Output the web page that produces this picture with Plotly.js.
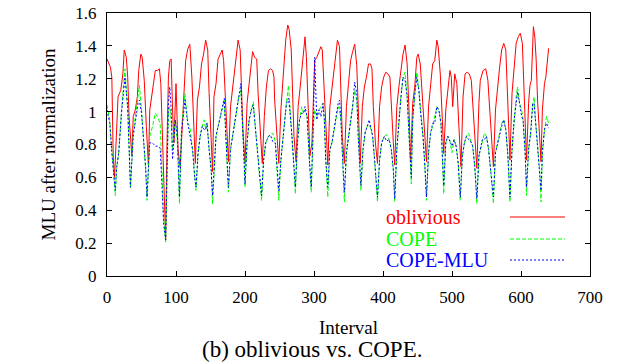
<!DOCTYPE html>
<html>
<head>
<meta charset="utf-8">
<script src="https://cdn.plot.ly/plotly-3.0.1.min.js"></script>
<style>html,body{margin:0;padding:0;background:#fff;}#chart{width:619px;height:362px;}</style>
</head>
<body>
<div id="chart"></div>
<script>
// oblivious (read at key points: peaks, troughs, shoulders)
var oblX = [0,3,5,7,9,11,13,16,20,23,25,28,30,32,36,38,41,44,46,49,51,54,57,60,62,66,70,73,76,78,80,83,85,87,89,91,93,95,97,100,103,106,109,112,114,117,120,123,126,128,131,134,137,140,143,146,148,151,153,155,158,161,164,167,169,172,176,179,182,185,188,190,193,195,197,200,203,206,209,211,214,217,219,222,225,228,231,234,237,240,242,243,246,249,252,255,257,259,262,264,267,269,271,274,277,280,283,285,287,289,292,294,297,299,301,304,307,310,312,314,317,320,323,326,329,332,334,337,339,341,344,347,350,353,356,359,362,364,367,370,373,376,379,382,384,386,389,392,395,398,401,404,407,410,412,415,417,420,423,426,429,432,435,438,440,443,446,449,451,454,457,460,463,466,469,472,475,478,480,483,486,488,491,494,497,499,501,504,507,510,513,516,519,522,525,528,532,536,539,541,545,549,552,555,560,563,566,569,572,575,578,581,584,587,590,593,596,599,602,604,608,611,613,615,618,620,622,624,627,629,631,634,636,638,640];
var oblY = [1.32,1.29,1.27,1.21,0.73,0.60,0.81,1.09,1.13,1.23,1.375,1.33,1.21,0.97,0.73,0.97,1.01,1.09,1.25,1.35,1.33,1.19,0.91,0.675,1.01,1.13,1.25,1.25,1.26,1.17,0.85,0.40,0.22,0.81,1.21,1.31,1.32,1.01,0.81,1.17,0.77,0.66,0.91,1.07,1.31,1.38,1.41,1.21,0.91,0.685,1.07,1.15,1.29,1.35,1.435,1.375,1.11,0.85,0.635,1.09,1.17,1.32,1.35,1.375,1.31,1.03,0.695,1.03,1.15,1.27,1.35,1.435,1.375,1.11,0.89,0.685,1.05,1.17,1.27,1.365,1.33,1.32,1.11,0.91,0.685,0.97,1.15,1.25,1.26,1.25,1.21,1.07,0.85,0.685,1.01,1.19,1.33,1.435,1.527,1.50,1.375,1.15,0.85,0.695,1.03,1.15,1.29,1.395,1.455,1.33,1.01,0.73,0.81,1.11,1.31,1.33,1.365,1.395,1.375,1.21,0.95,0.675,1.03,1.15,1.27,1.35,1.435,1.395,1.11,0.85,0.685,1.03,1.17,1.31,1.365,1.41,1.28,0.99,0.685,1.03,1.15,1.21,1.29,1.29,1.26,1.03,0.81,0.685,1.03,1.15,1.21,1.24,1.23,1.21,1.01,0.81,0.675,1.03,1.15,1.25,1.35,1.405,1.29,0.97,0.695,1.05,1.15,1.33,1.35,1.29,1.09,0.85,0.695,1.03,1.15,1.29,1.31,1.435,1.395,1.23,0.95,0.745,1.01,1.15,1.25,1.21,1.03,1.23,1.17,0.91,0.665,1.09,1.23,1.24,1.23,1.19,0.95,0.655,1.05,1.19,1.25,1.26,1.19,0.97,0.665,1.01,1.15,1.27,1.375,1.415,1.375,1.01,0.705,1.11,1.29,1.415,1.455,1.476,1.415,1.16,0.705,1.05,1.16,1.19,1.517,1.455,1.314,1.07,0.85,0.695,1.01,1.17,1.21,1.33,1.385];

// COPE and COPE-MLU share the read positions
var copeX = [0,4,7,10,12,14,17,21,25,26,30,32,34,38,42,45,47,50,53,56,58,62,66,70,73,77,80,82,85,87,89,91,93,95,99,102,105,108,113,117,120,124,127,129,132,135,138,141,143,145,148,151,153,156,158,161,164,167,170,172,174,176,179,182,186,188,191,194,196,199,200,203,206,209,212,214,217,220,224,227,230,234,237,240,242,244,246,249,252,255,258,260,263,265,268,270,273,276,279,282,285,287,290,293,296,299,301,304,307,310,313,315,317,320,323,326,329,332,335,337,339,342,344,347,350,353,356,359,362,364,368,371,374,377,380,383,385,387,390,392,395,398,402,405,409,412,415,417,420,423,426,429,432,435,438,441,443,446,449,452,455,458,461,463,466,469,472,475,478,481,484,486,488,491,494,497,500,503,506,509,512,515,518,521,524,527,530,533,536,539,542,544,547,550,553,556,560,563,566,570,572,575,578,581,584,587,590,593,595,598,601,603,606,608,611,614,617,619,621,624,627,629,631,634,637,640];
var copeY = [1.04,0.95,0.77,0.56,0.49,0.66,0.75,1.01,1.23,1.26,1.01,0.71,0.54,0.87,1.01,1.11,1.16,1.01,0.85,0.64,0.46,0.85,0.91,0.99,0.97,0.93,0.60,0.36,0.20,0.60,1.01,1.03,0.95,0.77,0.95,0.81,0.44,0.91,1.11,0.93,0.91,0.77,0.60,0.52,0.75,0.85,0.91,0.95,0.89,0.93,0.77,0.645,0.44,0.73,0.85,0.91,0.97,1.03,1.07,0.87,0.665,0.51,0.77,0.85,0.95,1.01,1.09,1.13,0.97,0.685,0.54,0.81,0.95,1.01,1.06,0.95,0.81,0.645,0.46,0.705,0.81,0.85,0.857,0.87,0.85,0.81,0.685,0.46,0.705,0.85,0.95,1.05,1.16,1.01,0.85,0.73,0.50,0.81,0.95,1.03,0.99,1.01,0.97,0.73,0.51,0.91,1.01,0.97,1.01,1.03,1.05,0.95,0.705,0.48,0.77,0.81,0.89,0.97,1.03,1.01,0.95,0.665,0.45,0.75,0.85,0.95,1.03,1.13,1.07,0.85,0.52,0.77,0.87,0.91,0.92,0.89,0.85,0.75,0.60,0.45,0.705,0.81,0.85,0.86,0.83,0.77,0.645,0.45,0.77,0.95,1.09,1.21,1.24,1.09,0.81,0.56,0.95,1.11,1.24,1.13,1.01,0.85,0.645,0.46,0.75,0.87,0.91,0.97,1.03,1.01,0.93,0.73,0.50,0.81,0.85,0.82,0.75,0.83,0.79,0.685,0.46,0.73,0.81,0.85,0.87,0.82,0.79,0.665,0.44,0.73,0.79,0.83,0.87,0.85,0.77,0.645,0.44,0.75,0.81,0.89,0.93,0.95,0.89,0.73,0.45,0.77,0.95,1.09,1.15,1.05,1.01,0.95,0.75,0.49,0.77,0.87,1.05,1.09,0.95,0.81,0.645,0.45,0.75,0.89,0.97,0.93];
var mluY = [1.01,0.93,0.75,0.60,0.52,0.66,0.75,0.99,1.21,1.21,1.03,0.73,0.54,0.85,0.97,1.05,1.07,0.99,0.83,0.665,0.48,0.81,0.81,0.79,0.79,0.78,0.52,0.32,0.22,0.645,1.05,1.15,1.01,0.71,0.95,0.85,0.48,0.87,1.07,0.93,0.87,0.77,0.60,0.54,0.75,0.85,0.91,0.89,0.89,0.93,0.77,0.645,0.49,0.73,0.85,0.91,0.97,1.03,1.08,0.87,0.665,0.54,0.77,0.85,0.95,1.01,1.09,1.17,0.97,0.685,0.56,0.81,0.95,1.01,1.04,0.95,0.81,0.645,0.49,0.705,0.81,0.85,0.857,0.82,0.81,0.81,0.685,0.52,0.705,0.85,0.95,1.05,1.08,1.01,0.85,0.73,0.54,0.81,0.95,0.99,0.99,1.03,0.97,0.73,0.54,0.91,1.33,0.95,1.01,0.97,1.05,0.95,0.705,0.54,0.77,0.81,0.89,0.97,1.05,1.07,0.95,0.665,0.51,0.75,0.85,0.95,1.03,1.18,1.11,0.85,0.55,0.77,0.87,0.91,0.95,0.89,0.85,0.75,0.60,0.48,0.705,0.81,0.85,0.82,0.83,0.77,0.645,0.47,0.77,0.95,1.09,1.21,1.19,1.09,0.81,0.60,0.95,1.11,1.21,1.13,0.97,0.85,0.645,0.48,0.75,0.87,0.93,0.93,1.03,1.01,0.93,0.73,0.55,0.81,0.85,0.82,0.79,0.83,0.79,0.685,0.48,0.73,0.81,0.85,0.83,0.82,0.79,0.665,0.47,0.73,0.79,0.83,0.83,0.85,0.77,0.645,0.48,0.75,0.81,0.89,0.91,0.95,0.89,0.73,0.48,0.77,0.95,1.05,1.12,1.05,0.97,0.95,0.75,0.54,0.77,0.87,1.05,1.05,0.95,0.81,0.645,0.52,0.75,0.89,0.93,0.90];

var seriesNames = ["oblivious", "COPE", "COPE-MLU"];
var seriesColors = ["#ff0000", "#00ff00", "#0000ff"];
var xTicks = [0,100,200,300,400,500,600,700];
var yTicks = [0,0.2,0.4,0.6,0.8,1,1.2,1.4,1.6];

var F = "Times New Roman, Liberation Serif, DejaVu Serif, serif";
var dashes = ["solid", "4px,2px", "2px,2px"];

var traces = [
  {x: oblX, y: oblY, name: seriesNames[0], mode: "lines", line: {color: seriesColors[0], width: 1, dash: dashes[0]}},
  {x: copeX, y: copeY, name: seriesNames[1], mode: "lines", line: {color: seriesColors[1], width: 1, dash: dashes[1]}},
  {x: copeX, y: mluY, name: seriesNames[2], mode: "lines", line: {color: seriesColors[2], width: 1, dash: dashes[2]}}
];

function px2x(p){ return (p - 107) / 483; }
function py2y(p){ return (276 - p) / 263; }

var legRowsY = [217, 239, 260];
var annotations = [];
var shapes = [];
for (var k = 0; k < 3; k++) {
  annotations.push({xref: "paper", yref: "paper", x: px2x(384), y: py2y(legRowsY[k]), xanchor: "left", yanchor: "middle",
    text: seriesNames[k], showarrow: false, font: {family: F, size: 20, color: seriesColors[k]}});
  shapes.push({type: "line", xref: "paper", yref: "paper", x0: px2x(510), x1: px2x(565), y0: py2y(legRowsY[k]), y1: py2y(legRowsY[k]),
    line: {color: seriesColors[k], width: 1, dash: dashes[k]}});
}
annotations.push({xref: "paper", yref: "paper", x: px2x(312), y: py2y(349), xanchor: "center", yanchor: "middle",
  text: "(b) oblivious vs. COPE.", showarrow: false, font: {family: F, size: 23, color: "#000"}});

var axisCommon = {
  showline: true, linecolor: "#000", linewidth: 1, mirror: "allticks",
  ticks: "inside", ticklen: 5, tickcolor: "#000", tickwidth: 1,
  showgrid: false, zeroline: false,
  tickfont: {family: F, size: 17, color: "#000"}
};

var layout = {
  width: 619, height: 362,
  margin: {l: 107, r: 29, t: 13, b: 86},
  paper_bgcolor: "#fff", plot_bgcolor: "#fff",
  showlegend: false,
  font: {family: F, color: "#000"},
  xaxis: Object.assign({}, axisCommon, {range: [0, 700], tickvals: xTicks, ticktext: xTicks.map(String),
    ticklabelstandoff: 6,
    title: {text: "Interval", font: {family: F, size: 19, color: "#000"}, standoff: 14}}),
  yaxis: Object.assign({}, axisCommon, {range: [0, 1.6], tickvals: yTicks, ticktext: yTicks.map(String),
    ticklabelstandoff: 6,
    title: {text: "MLU after normalization", font: {family: F, size: 19, color: "#000"}, standoff: 14}}),
  annotations: annotations,
  shapes: shapes
};

Plotly.newPlot("chart", traces, layout, {staticPlot: true, displayModeBar: false});
</script>
</body>
</html>
